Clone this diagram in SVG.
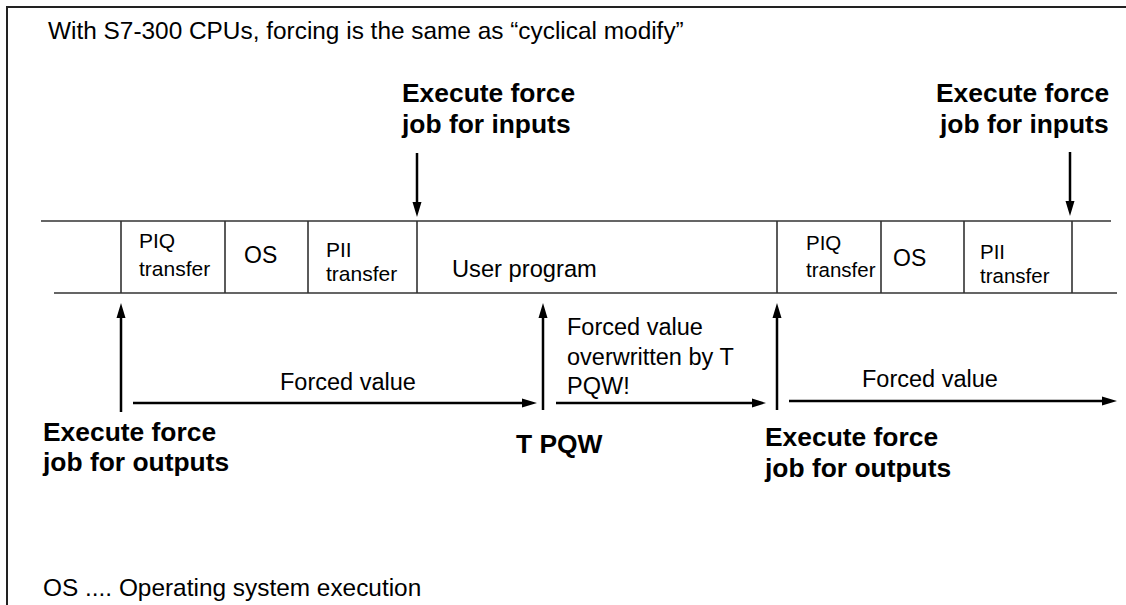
<svg xmlns="http://www.w3.org/2000/svg" width="1126" height="605" viewBox="0 0 1126 605">
<defs>
<style>
text{font-family:"Liberation Sans",Arial,sans-serif;fill:#000}
.t{font-size:24.4px}
.s{font-size:21px}
.s2{font-size:20.5px}
.m{font-size:23px}
.u{font-size:23.7px}
.b{font-size:26.4px;font-weight:bold}
.fv{font-size:23.5px}
.tl{stroke:#333;stroke-width:1.6;fill:none}
.ar{stroke:#000;stroke-width:2.5;fill:none}
.hd{fill:#000}
</style>
</defs>
<rect width="1126" height="605" fill="#fff"/>
<g id="frame">
<path d="M7,605 V7 H1126" stroke="#222" stroke-width="2" fill="none"/>
</g>
<g id="title"><text class="t" x="48" y="39">With S7-300 CPUs, forcing is the same as “cyclical modify”</text></g>
<g id="timeline">
<path class="tl" d="M41,221 H1111 M54,293 H1117 M121,221 V293 M225,221 V293 M308,221 V293 M417,221 V293 M777,221 V293 M881,221 V293 M964,221 V293 M1072,221 V293"/>
</g>
<g id="seg-piq1"><text class="s" x="139" y="248">PIQ</text><text class="s" x="139" y="276">transfer</text></g>
<g id="seg-os1"><text class="m" x="244" y="263">OS</text></g>
<g id="seg-pii1"><text class="s" x="326" y="257">PII</text><text class="s" x="326" y="281">transfer</text></g>
<g id="seg-user"><text class="u" x="452" y="277">User program</text></g>
<g id="seg-piq2"><text class="s2" x="806" y="250">PIQ</text><text class="s2" x="806" y="277">transfer</text></g>
<g id="seg-os2"><text class="m" x="893" y="266">OS</text></g>
<g id="seg-pii2"><text class="s2" x="980" y="259">PII</text><text class="s2" x="980" y="283">transfer</text></g>
<g id="lbl-in1"><text class="b" x="402" y="102">Execute force</text><text class="b" x="402" y="133">job for inputs</text></g>
<g id="lbl-in2"><text class="b" x="936" y="102">Execute force</text><text class="b" x="940" y="133">job for inputs</text></g>
<g id="lbl-out1"><text class="b" x="43" y="441">Execute force</text><text class="b" x="43" y="471">job for outputs</text></g>
<g id="lbl-tpqw"><text class="b" x="516" y="453">T PQW</text></g>
<g id="lbl-out2"><text class="b" x="765" y="446">Execute force</text><text class="b" x="765" y="477">job for outputs</text></g>
<g id="lbl-fv1"><text class="fv" x="280" y="390">Forced value</text></g>
<g id="lbl-fv2"><text class="fv" x="567" y="335">Forced value</text><text class="fv" x="567" y="365">overwritten by T</text><text class="fv" x="567" y="394">PQW!</text></g>
<g id="lbl-fv3"><text class="fv" x="862" y="387">Forced value</text></g>
<g id="connectors">
<path class="ar" d="M417,153 V203 M1070,152 V202 M121,317 V412 M543,317 V410 M777,317 V410 M133,403 H522 M556,403 H752 M789,401 H1102"/>
<path class="hd" d="M412.5,202 L421.5,202 L417,217 Z M1065.5,201 L1074.5,201 L1070,216 Z M116.5,318 L125.5,318 L121,303 Z M538.5,318 L547.5,318 L543,303 Z M772.5,318 L781.5,318 L777,303 Z M522,398.5 L522,407.5 L537,403 Z M752,398.5 L752,407.5 L766,403 Z M1102,396.5 L1102,405.5 L1117,401 Z"/>
</g>
<g id="footer"><text class="t" x="43" y="596">OS .... Operating system execution</text></g>
</svg>
